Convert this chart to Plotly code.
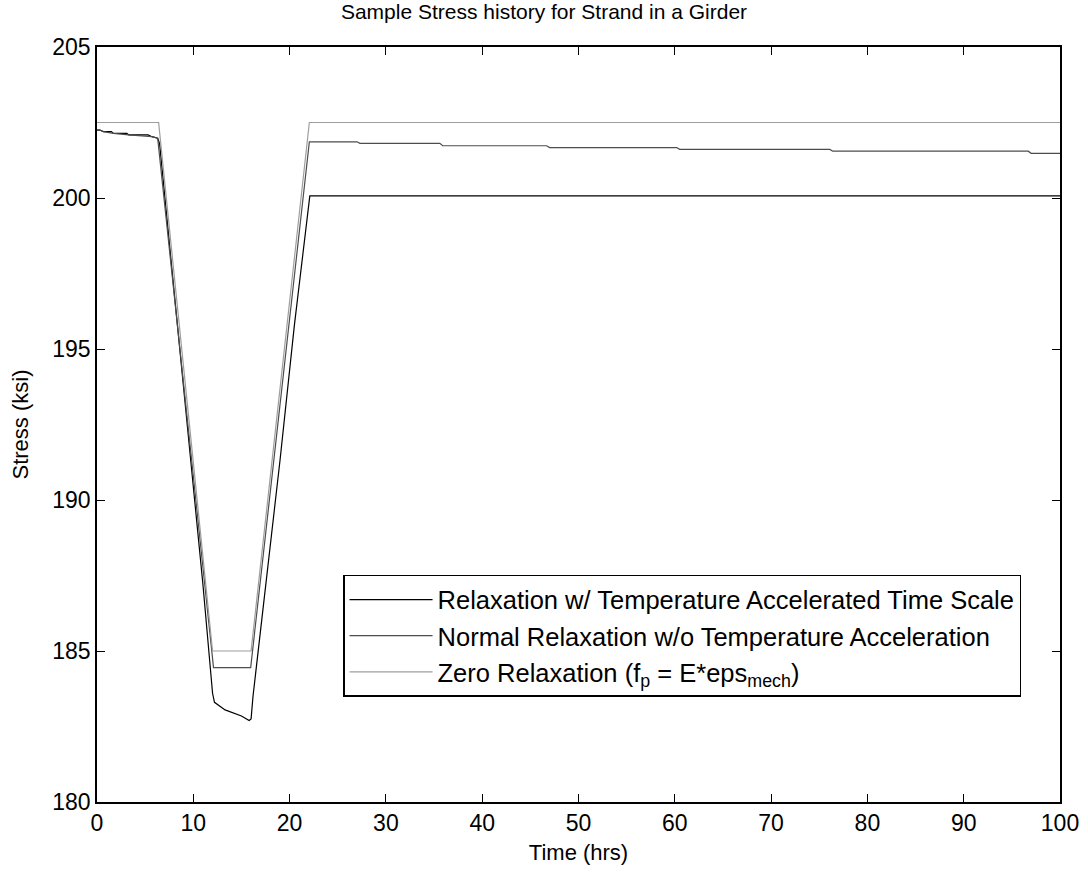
import plotly.graph_objects as go

# Stress history data (time in hrs, stress in ksi).
t_accel = [0, 0.3, 0.65, 1.5, 1.7, 3.1, 3.3, 5.3, 5.7, 6.3, 6.5, 8, 10, 11,
           12.0, 12.2, 13.3, 15, 15.8, 16.0, 16.2, 19, 20.5, 22.1, 100]
s_accel = [202.25, 202.25, 202.2, 202.2, 202.14, 202.14, 202.09, 202.09,
           202.03, 201.98, 201.8, 197.0, 190.5, 187.2, 183.6, 183.3, 183.05,
           182.85, 182.7, 182.75, 183.5, 191.3, 195.8, 200.07, 200.07]

t_normal = [0, 0.3, 0.65, 1.7, 3.3, 5.7, 6.3, 12.1, 15.96, 22.05, 27.0,
            27.3, 35.6, 35.9, 46.7, 47.0, 60.2, 60.5, 76.1, 76.4, 96.7,
            97.0, 100]
s_normal = [202.25, 202.25, 202.2, 202.14, 202.09, 202.03, 201.98, 184.45,
            184.45, 201.86, 201.86, 201.81, 201.81, 201.73, 201.73, 201.67,
            201.67, 201.61, 201.61, 201.55, 201.55, 201.48, 201.48]

t_zero = [0, 6.4, 12.0, 16.0, 22.05, 100]
s_zero = [202.5, 202.5, 185.0, 185.0, 202.5, 202.5]

names = ['Relaxation w/ Temperature Accelerated Time Scale',
         'Normal Relaxation w/o Temperature Acceleration',
         'Zero Relaxation (f<sub>p</sub> = E*eps<sub>mech</sub>)']

FONT = 'Liberation Sans, Arial, sans-serif'

fig = go.Figure()
fig.add_trace(go.Scatter(x=t_accel, y=s_accel, mode='lines', name=names[0],
                         line=dict(color='#000000', width=1.2)))
fig.add_trace(go.Scatter(x=t_normal, y=s_normal, mode='lines', name=names[1],
                         line=dict(color='#4d4d4d', width=1.2)))
fig.add_trace(go.Scatter(x=t_zero, y=s_zero, mode='lines', name=names[2],
                         line=dict(color='#9e9e9e', width=1.2)))

axis_style = dict(showline=True, linecolor='black', linewidth=1.5,
                  mirror='ticks', ticks='inside', ticklen=8,
                  tickcolor='black', showgrid=False, zeroline=False,
                  automargin=False,
                  tickfont=dict(size=23, color='black'))

fig.update_xaxes(range=[0, 100], dtick=10, title_text='Time (hrs)',
                 title_font=dict(size=22, color='black'), title_standoff=9,
                 **axis_style)
fig.update_yaxes(range=[180, 205], dtick=5, title_text='Stress (ksi)',
                 title_font=dict(size=22, color='black'), title_standoff=18,
                 **axis_style)

fig.update_layout(
    width=1088, height=874,
    margin=dict(l=97, r=28, t=47, b=72),
    paper_bgcolor='white', plot_bgcolor='white',
    font=dict(family=FONT, color='black'),
    title=dict(text='Sample Stress history for Strand in a Girder',
               x=0.5, xanchor='center', y=1 - 12 / 874, yanchor='middle',
               font=dict(size=21, color='black')),
    showlegend=True,
    legend=dict(x=0.2555, y=0.3007, xanchor='left', yanchor='top',
                bgcolor='white', bordercolor='black', borderwidth=1.5,
                itemwidth=83, font=dict(size=25.5, color='black')),
)

# drop the default body margin so the figure sits at the page corner
fig.write_html('out.html', config={'displayModeBar': False},
               post_script="document.body.style.margin='0';")
